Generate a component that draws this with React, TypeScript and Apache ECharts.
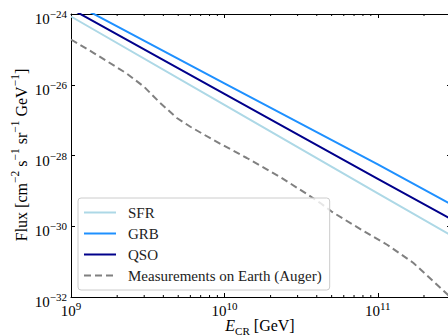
import React, { useEffect, useRef } from 'react';
import * as echarts from 'echarts';

// Predicted cosmic-ray flux from three source populations (power laws, read at decade points)
const energyGeV = [1e9, 1e10, 1e11, 3e11];
const sfrFlux = [8.5e-25, 2.7e-27, 8.5e-30, 5.5e-31];
const grbFlux = [2.2e-24, 1.1e-26, 5.6e-29, 4.2e-30];
const qsoFlux = [1.4e-24, 5.5e-27, 2.2e-29, 1.6e-30];

// Measured spectrum on Earth (Pierre Auger Observatory)
const augerEnergyGeV = [
  1e9, 1.4e9, 2.3e9, 3e9, 3.8e9, 4.9e9, 6e9, 8.4e9, 1.4e10, 2.3e10, 3.5e10, 4.2e10,
  5e10, 6.9e10, 1.15e11, 1.7e11, 2.9e11,
];
const augerFlux = [
  1.9e-25, 8e-26, 2.1e-26, 8.7e-27, 3.1e-27, 1.15e-27, 6.5e-28, 2.8e-28, 8.5e-29, 2.5e-29,
  7.8e-30, 4.6e-30, 2.6e-30, 1.1e-30, 3e-31, 9.3e-32, 1.1e-32,
];

const seriesNames = ['SFR', 'GRB', 'QSO', 'Measurements on Earth (Auger)'];
const seriesColors = ['#add8e6', '#1e90ff', '#00008b', '#808080'];

// Axis ranges and tick positions (in GeV and flux units)
const xRange = [1e9, 3e11];
const yRange = [1e-32, 1e-24];
const xMinorTicks = [
  2e9, 3e9, 4e9, 5e9, 6e9, 7e9, 8e9, 9e9,
  2e10, 3e10, 4e10, 5e10, 6e10, 7e10, 8e10, 9e10,
  2e11, 3e11,
];

const SERIF = 'Liberation Serif';
const lg = (v: number) => Math.log10(v);

// Both axes run in decades (log10 of the value); labels show the power of ten.
function powerLabel(e: number): string {
  const r = Math.round(e);
  if (Math.abs(e - r) > 1e-6) return '';
  const exp = (r < 0 ? '\u2212' : '') + Math.abs(r);
  return `{b|10}{s|${exp}}`;
}

const baseFont = { fontFamily: SERIF, fontWeight: 'normal' as const, fill: '#000', color: '#000' };

const tickRich = {
  b: { ...baseFont, fontSize: 15, lineHeight: 18, verticalAlign: 'bottom' },
  s: { ...baseFont, fontSize: 11, lineHeight: 18, verticalAlign: 'top' },
};

const nameRich = {
  b: { ...baseFont, fontSize: 16, lineHeight: 20, verticalAlign: 'bottom' },
  s: { ...baseFont, fontSize: 11.5, lineHeight: 20, verticalAlign: 'top' },
  i: { ...baseFont, fontSize: 16, fontStyle: 'italic', lineHeight: 19, verticalAlign: 'top' },
  n: { ...baseFont, fontSize: 16, lineHeight: 19, verticalAlign: 'top' },
  c: { ...baseFont, fontSize: 11, lineHeight: 19, verticalAlign: 'bottom' },
};

const tickStroke = { stroke: '#000', lineWidth: 1 };

export default function App() {
  const ref = useRef<HTMLDivElement>(null);

  useEffect(() => {
    if (!ref.current) return;
    const chart = echarts.init(ref.current, undefined, { renderer: 'svg' });

    const modelSeries = [sfrFlux, grbFlux, qsoFlux].map((flux, k) => ({
      name: seriesNames[k],
      type: 'line',
      data: energyGeV.map((e, j) => [lg(e), lg(flux[j])]),
      showSymbol: false,
      symbol: 'none',
      lineStyle: { color: seriesColors[k], width: 2 },
      itemStyle: { color: seriesColors[k] },
      z: 3,
    }));

    const xMin = lg(xRange[0]);
    const xMax = lg(xRange[1]);
    const yMin = lg(yRange[0]);
    const yMax = lg(yRange[1]);

    const axisLine = { show: true, lineStyle: { color: '#000', width: 1 } };
    const majorTick = { show: true, inside: true, length: 4, lineStyle: { color: '#000' } };

    chart.setOption({
      animation: false,
      textStyle: { fontFamily: SERIF },
      grid: { left: 71, right: 1, top: 14, bottom: 39, containLabel: false, outerBoundsMode: 'none' },
      legend: {
        orient: 'vertical',
        left: 78,
        top: 198,
        data: seriesNames,
        itemWidth: 32,
        itemHeight: 14,
        itemGap: 6,
        padding: [7, 8, 7, 5],
        backgroundColor: 'rgba(255,255,255,0.8)',
        borderColor: '#cccccc',
        borderWidth: 1,
        borderRadius: 3,
        itemStyle: { opacity: 0 },
        textStyle: { fontFamily: SERIF, color: '#222', fontSize: 15, lineHeight: 14, padding: [0, 0, 0, 7] },
      },
      graphic: [
        {
          // energy axis title
          type: 'text',
          x: 260,
          y: 327,
          silent: true,
          style: {
            text: '{i|E}{c|CR}{n| [GeV]}',
            rich: nameRich,
            align: 'center',
            verticalAlign: 'middle',
            fontFamily: SERIF,
            fontSize: 16,
          },
        },
        {
          // flux axis title
          type: 'text',
          x: 19,
          y: 155,
          rotation: Math.PI / 2,
          silent: true,
          style: {
            text: '{b|Flux [cm}{s|\u22122}{b| s}{s|\u22121}{b| sr}{s|\u22121}{b| GeV}{s|\u22121}{b|]}',
            rich: nameRich,
            align: 'center',
            verticalAlign: 'middle',
            fontFamily: SERIF,
            fontSize: 16,
          },
        },
      ],
      xAxis: [
        {
          type: 'value',
          min: xMin,
          max: xMax,
          interval: 1,
          position: 'bottom',
          axisLine,
          axisTick: majorTick,
          axisLabel: {
            margin: 3,
            showMaxLabel: false,
            formatter: (v: number) => powerLabel(v),
            rich: tickRich,
          },
          splitLine: { show: false },
        },
        {
          type: 'value',
          min: xMin,
          max: xMax,
          interval: 1,
          position: 'top',
          axisLine,
          axisTick: majorTick,
          axisLabel: { show: false },
          splitLine: { show: false },
        },
      ],
      yAxis: [
        {
          type: 'value',
          min: yMin,
          max: yMax,
          interval: 2,
          position: 'left',
          axisLine,
          axisTick: majorTick,
          axisLabel: {
            margin: 4,
            padding: [7, 0, 0, 0],
            formatter: (v: number) => powerLabel(v),
            rich: tickRich,
          },
          splitLine: { show: false },
        },
        {
          type: 'value',
          min: yMin,
          max: yMax,
          interval: 2,
          position: 'right',
          axisLine,
          axisTick: majorTick,
          axisLabel: { show: false },
          splitLine: { show: false },
        },
      ],
      series: [
        ...modelSeries,
        {
          name: seriesNames[3],
          type: 'line',
          data: augerEnergyGeV.map((e, j) => [lg(e), lg(augerFlux[j])]),
          showSymbol: false,
          symbol: 'none',
          lineStyle: { color: seriesColors[3], width: 2, type: [7, 4] },
          itemStyle: { color: seriesColors[3] },
          z: 2,
        },
        {
          // minor ticks (2..9 of each decade) on the bottom and top energy axes
          type: 'custom',
          silent: true,
          clip: false,
          data: xMinorTicks.map((v) => [lg(v), yMin]),
          renderItem: (_p: any, api: any) => {
            const v = api.value(0);
            const b = api.coord([v, yMin]);
            const t = api.coord([v, yMax]);
            return {
              type: 'group',
              children: [
                { type: 'line', shape: { x1: b[0], y1: b[1], x2: b[0], y2: b[1] - 2 }, style: tickStroke },
                { type: 'line', shape: { x1: t[0], y1: t[1], x2: t[0], y2: t[1] + 2 }, style: tickStroke },
              ],
            };
          },
          z: 5,
        },
      ],
    });

    return () => chart.dispose();
  }, []);

  return (
    <div style={{ position: 'absolute', left: 0, top: 0, width: 448, height: 336, overflow: 'hidden', background: '#fff' }}>
      <div ref={ref} style={{ width: 452, height: 336 }} />
    </div>
  );
}
